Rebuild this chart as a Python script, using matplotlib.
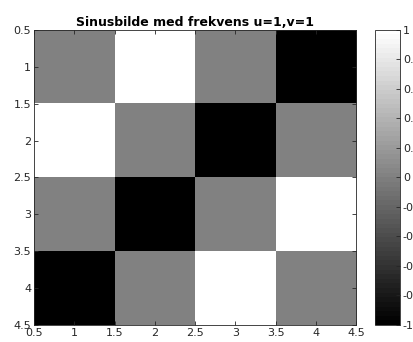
import numpy as np
import matplotlib
matplotlib.use('Agg')
import matplotlib.pyplot as plt

# Sinusbilde 4x4, u=1, v=1
rader = [1, 2, 3, 4]
kolonner = [1, 2, 3, 4]
bilde = [
    [0, 1, 0, -1],
    [1, 0, -1, 0],
    [0, -1, 0, 1],
    [-1, 0, 1, 0],
]
xticks = [0.5, 1, 1.5, 2, 2.5, 3, 3.5, 4, 4.5]
yticks = [0.5, 1, 1.5, 2, 2.5, 3, 3.5, 4, 4.5]
cticks = [-1, -0.8, -0.6, -0.4, -0.2, 0, 0.2, 0.4, 0.6, 0.8, 1]

tekst = '#262626'
plt.rcParams['font.family'] = 'DejaVu Sans'
plt.rcParams['font.size'] = 8

fig = plt.figure(figsize=(4.13, 3.42), dpi=100)
ax = fig.add_axes([0.0823, 0.0497, 0.780, 0.863])
cax = fig.add_axes([0.908, 0.0497, 0.0605, 0.863])

cmap = plt.get_cmap('gray').resampled(64)
Z = np.array(bilde, dtype=float)
im = ax.imshow(Z, cmap=cmap, vmin=-1, vmax=1, aspect='auto',
               extent=[kolonner[0] - 0.5, kolonner[-1] + 0.5,
                       rader[-1] + 0.5, rader[0] - 0.5],
               interpolation='nearest')

ax.set_xticks(xticks)
ax.set_xticklabels([f'{t:g}' for t in xticks])
ax.set_yticks(yticks)
ax.set_yticklabels([f'{t:g}' for t in yticks])
ax.tick_params(direction='in', length=3, width=0.6, colors=tekst,
               top=True, right=True, pad=2)
for s in ax.spines.values():
    s.set_color(tekst)
    s.set_linewidth(0.6)
ax.set_title('Sinusbilde med frekvens u=1,v=1', fontsize=9, fontweight='bold',
             color='black', pad=3)

cb = fig.colorbar(im, cax=cax, ticks=cticks)
cb.ax.set_yticklabels([f'{t:g}' for t in cticks])
cb.ax.tick_params(direction='in', length=3, width=0.6, colors=tekst,
                  left=False, right=True, pad=2)
cb.outline.set_edgecolor(tekst)
cb.outline.set_linewidth(0.6)

fig.savefig('out.png', dpi=100)
